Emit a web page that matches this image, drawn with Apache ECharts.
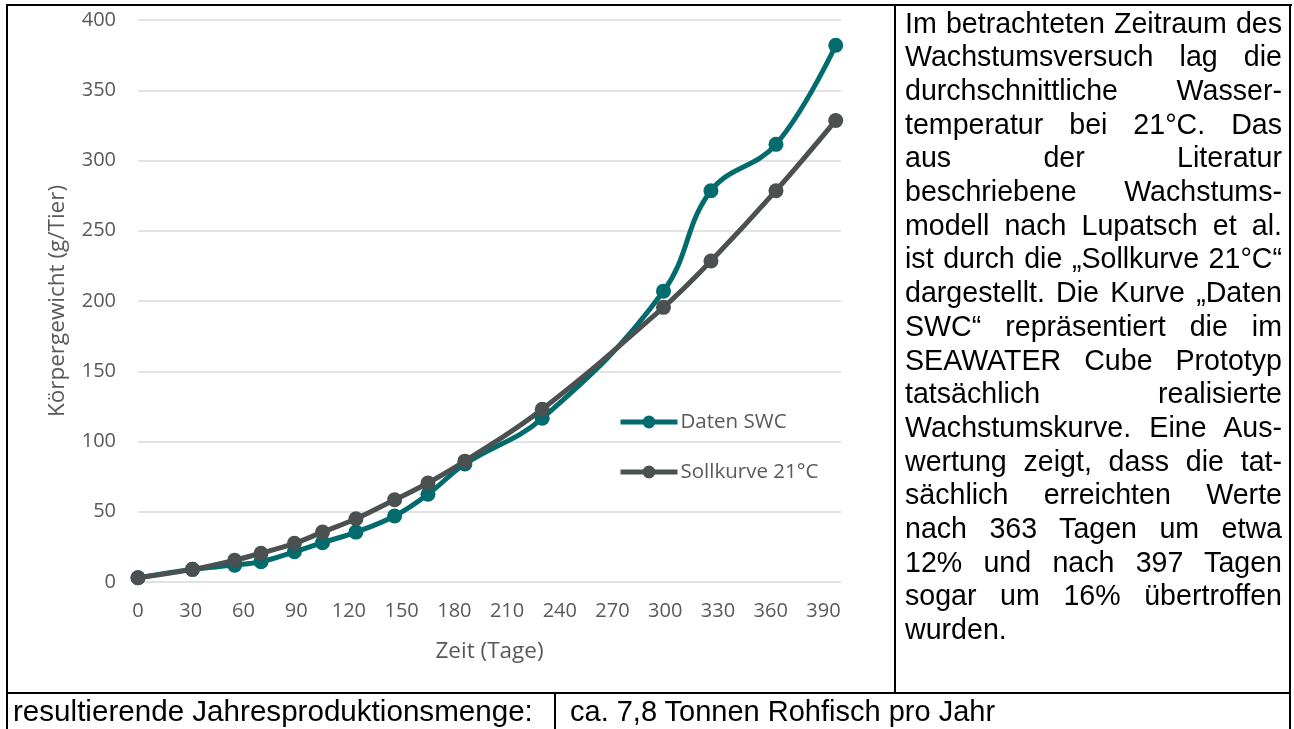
<!DOCTYPE html>
<html>
<head>
<meta charset="utf-8">
<script src="https://cdn.jsdelivr.net/npm/echarts@6/dist/echarts.min.js"></script>
<style>
  html, body { margin: 0; padding: 0; background: #fff; }
  body { width: 1294px; height: 729px; position: relative; overflow: hidden; }
  #chart { position: absolute; left: 0; top: 0; width: 1294px; height: 729px; }
  .b { position: absolute; background: #000; }
  .txt { position: absolute; font-family: "Liberation Sans", Arial, sans-serif; color: #000; white-space: nowrap; }
  .col { left: 905px; width: 377px; font-size: 28.6px; line-height: 33.7px; top: 6.5px; }
  .col div { text-align: justify; text-align-last: justify; white-space: nowrap; }
  .col div.last { text-align: left; text-align-last: left; }
  .row { font-size: 29px; line-height: 34px; top: 694px; }
</style>
</head>
<body>
<div id="chart"></div>
<!-- table borders -->
<div class="b" style="left:6px; top:4px; width:1286px; height:2px;"></div>
<div class="b" style="left:6px; top:4px; width:2px; height:725px;"></div>
<div class="b" style="left:1289px; top:4px; width:2px; height:725px;"></div>
<div class="b" style="left:894px; top:4px; width:2px; height:690px;"></div>
<div class="b" style="left:6px; top:692px; width:1285px; height:2px;"></div>
<div class="b" style="left:554px; top:692px; width:2px; height:37px;"></div>

<div class="txt col" id="para"></div>
<div class="txt row" style="left:13px; font-size:29.6px;">resultierende Jahresproduktionsmenge:</div>
<div class="txt row" style="left:570px;">ca. 7,8 Tonnen Rohfisch pro Jahr</div>

<script>
// ---- data ----
const days = [0, 31, 55, 70, 89, 105, 124, 146, 165, 186, 230, 299, 326, 363, 397];
const datenSWC = [3, 9, 12, 14.5, 21.5, 28, 35.5, 47, 62.5, 84, 116.5, 207, 278.5, 311.5, 382];
const sollkurve = [3, 9, 15.5, 20.5, 27.5, 35.5, 45, 58.5, 70.5, 86, 123, 195.5, 228.5, 278.5, 328.5];
const seriesNames = ['Daten SWC', 'Sollkurve 21°C'];
const yAxisTitle = 'Körpergewicht (g/Tier)';
const xAxisTitle = 'Zeit (Tage)';
const paragraphLines = [
  'Im betrachteten Zeitraum des',
  'Wachstumsversuch lag die',
  'durchschnittliche Wasser-',
  'temperatur bei 21°C. Das',
  'aus der Literatur',
  'beschriebene Wachstums-',
  'modell nach Lupatsch et al.',
  'ist durch die „Sollkurve 21°C“',
  'dargestellt. Die Kurve „Daten',
  'SWC“ repräsentiert die im',
  'SEAWATER Cube Prototyp',
  'tatsächlich realisierte',
  'Wachstumskurve. Eine Aus-',
  'wertung zeigt, dass die tat-',
  'sächlich erreichten Werte',
  'nach 363 Tagen um etwa',
  '12% und nach 397 Tagen',
  'sogar um 16% übertroffen',
  'wurden.'
];

// paragraph
const para = document.getElementById('para');
paragraphLines.forEach((t, i) => {
  const d = document.createElement('div');
  d.textContent = t;
  if (i === paragraphLines.length - 1) d.className = 'last';
  para.appendChild(d);
});

const pair = (xs, ys) => xs.map((x, i) => [x, ys[i]]);
const teal = '#026B6D';
const gray = '#4B5051';
const labelColor = '#595959';
const fontFam = '"Open Sans", sans-serif';

const chart = echarts.init(document.getElementById('chart'), null, { renderer: 'canvas' });
chart.setOption({
  animation: false,
  grid: { left: 138, right: 453, top: 20, bottom: 147, containLabel: false },
  legend: {
    orient: 'vertical',
    left: 618, top: 410, padding: 0,
    itemWidth: 57, itemHeight: 16, itemGap: 26,
    lineStyle: { width: 5 },
    textStyle: { color: labelColor, fontSize: 20.5, fontFamily: fontFam, lineHeight: 24, padding: [0, 0, 0, -2] },
    data: seriesNames
  },
  xAxis: {
    type: 'value', min: 0, max: 400, interval: 30,
    name: xAxisTitle, nameLocation: 'middle', nameGap: 58,
    nameTextStyle: { color: labelColor, fontSize: 22.5, fontFamily: fontFam },
    axisLine: { show: false }, axisTick: { show: false },
    splitLine: { show: false },
    axisLabel: { color: labelColor, fontSize: 20, fontFamily: fontFam, margin: 19, showMaxLabel: false }
  },
  yAxis: {
    type: 'value', min: 0, max: 400, interval: 50,
    name: yAxisTitle, nameLocation: 'middle', nameGap: 69,
    nameTextStyle: { color: labelColor, fontSize: 22.5, fontFamily: fontFam },
    axisLine: { show: false }, axisTick: { show: false },
    splitLine: { lineStyle: { color: '#D9D9D9', width: 1.5 } },
    axisLabel: { color: labelColor, fontSize: 20, fontFamily: fontFam, margin: 22 }
  },
  series: [
    {
      name: seriesNames[0], type: 'line', smooth: 0.4,
      data: pair(days, datenSWC),
      symbol: 'circle', symbolSize: 15,
      lineStyle: { color: teal, width: 5 },
      itemStyle: { color: teal }
    },
    {
      name: seriesNames[1], type: 'line', smooth: 0.4,
      data: pair(days, sollkurve),
      symbol: 'circle', symbolSize: 15,
      lineStyle: { color: gray, width: 5 },
      itemStyle: { color: gray }
    }
  ]
});
</script>
</body>
</html>
